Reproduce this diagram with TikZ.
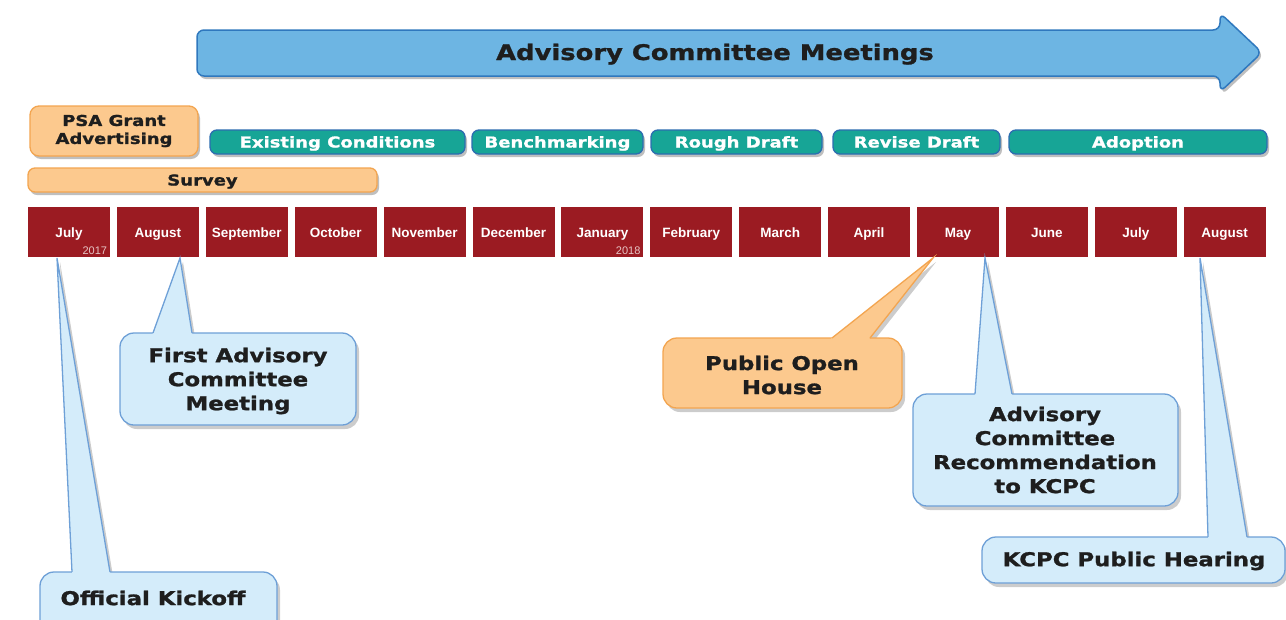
\documentclass[tikz,border=0pt]{standalone}
\usepackage{fontspec}
\newfontfamily\wfont{DejaVu Sans}[FakeStretch=1.2,BoldFeatures={FakeBold=1.2}]
\newfontfamily\mfont{Liberation Sans}
\usetikzlibrary{shadows,calc}
\definecolor{mred}{HTML}{9B1B22}
\definecolor{arrfill}{HTML}{6DB5E3}
\definecolor{arrline}{HTML}{2F78BE}
\definecolor{tealfill}{HTML}{17A596}
\definecolor{tealline}{HTML}{2C6DB0}
\definecolor{orfill}{HTML}{FCC98E}
\definecolor{orline}{HTML}{F3A550}
\definecolor{blfill}{HTML}{D4ECFA}
\definecolor{blline}{HTML}{6EA0D7}
\definecolor{ink}{HTML}{1E1E1E}
\definecolor{yearc}{HTML}{E6C4C4}

% #1 colour prefix, #2..#5 box, #6 #7 pointer base x, #8 #9 pointer tip
\newcommand{\mycallout}[9]{%
  \fill[black,opacity=.2,shift={(3,4)}] [rounded corners=14] (#2,#3) rectangle (#4,#5)
       [sharp corners] (#6,#3) -- (#8,#9) -- (#7,#3) -- cycle;
  \path[fill=#1fill,draw=#1line,line width=1.3,rounded corners=14] (#2,#3) rectangle (#4,#5);
  \fill[#1fill] (#8,#9) -- ($(#6,#3)!-3pt!(#8,#9)$) -- ($(#7,#3)!-3pt!(#8,#9)$) -- cycle;
  \draw[#1line,line width=1.3] (#6,#3) -- (#8,#9) -- (#7,#3);
}

\begin{document}
\begin{tikzpicture}[x=1pt,y=-1pt,
  shad/.style={drop shadow={shadow xshift=2pt,shadow yshift=-3pt,opacity=.25,fill=black}},
  month/.style={fill=mred,minimum width=82pt,minimum height=50pt,inner sep=0pt,
     text height=10pt,text depth=0pt,
     text=white,font=\mfont\bfseries\fontsize{13.5}{15}\selectfont},
  yearlbl/.style={text=yearc,inner sep=0pt,font=\mfont\fontsize{11}{12}\selectfont},
  phase/.style={shad,fill=tealfill,draw=tealline,line width=1.3,rounded corners=7,
     minimum height=24pt,inner sep=0pt,text height=11pt,text depth=0pt,
     text=white,font=\wfont\bfseries\fontsize{15}{18}\selectfont},
  orbox/.style={shad,fill=orfill,draw=orline,line width=1.3,inner sep=0pt,
     text=ink,font=\wfont\bfseries\fontsize{15}{18}\selectfont,align=center},
  ctext/.style={text=ink,align=center,inner sep=0pt,font=\wfont\bfseries\fontsize{19}{24}\selectfont}
]
\useasboundingbox (0,0) rectangle (1286,619);
\clip (0,0) rectangle (1286,619);
\fill[white] (0,0) rectangle (1286,619);

% big arrow
\path[shad,fill=arrfill,draw=arrline,line width=1.5,rounded corners=7]
  (197,30) -- (1220,30) -- (1220,13) -- (1262,52.5) -- (1220,92) -- (1220,76) -- (197,76) -- cycle;
\node[text=ink,inner sep=0pt,text height=16pt,text depth=0pt,font=\wfont\bfseries\fontsize{21.5}{24}\selectfont] (title) at (715,52) {Advisory Committee Meetings};

% orange boxes
\node[orbox,rounded corners=9,minimum width=168pt,minimum height=50pt] (psa) at (114,131) {PSA Grant\\Advertising};
\node[orbox,rounded corners=7,minimum width=349pt,minimum height=24pt,text height=11pt,text depth=0pt] (survey) at (202.5,180) {Survey};

% phases
\node[phase,minimum width=255pt] (p1) at (337.5,142) {Existing Conditions};
\node[phase,minimum width=171pt] (p2) at (557.5,142) {Benchmarking};
\node[phase,minimum width=171pt] (p3) at (736.5,142) {Rough Draft};
\node[phase,minimum width=167pt] (p4) at (916.5,142) {Revise Draft};
\node[phase,minimum width=258pt] (p5) at (1138,142) {Adoption};

% months
\foreach \m [count=\i from 0] in {July,August,September,October,November,December,January,February,March,April,May,June,July,August}
  \node[month] (m\i) at ({69+88.9*\i},232) {\m};
\node[yearlbl,anchor=south east] (y2017) at ([xshift=-3pt,yshift=2pt]m0.south east) {2017};
\node[yearlbl,anchor=south east] (y2018) at ([xshift=-3pt,yshift=2pt]m6.south east) {2018};

% callouts
\mycallout{bl}{40}{572}{277}{640}{72}{110}{57}{258}
\node[ctext] (kick) at (153,598) {Official Kickoff};

\mycallout{bl}{120}{333}{356}{425}{153}{192}{180}{258}
\node[ctext] (first) at (238,381) {First Advisory\\Committee\\Meeting};

\mycallout{or}{663}{338}{902}{408}{832}{870}{933}{258}
\node[ctext] (poh) at (782,375) {Public Open\\House};

\mycallout{bl}{913}{394}{1178}{506}{975}{1012}{985}{258}
\node[ctext] (rec) at (1045,450) {Advisory\\Committee\\Recommendation\\to KCPC};

\mycallout{bl}{982}{537}{1285}{583}{1208}{1247}{1200}{258}
\node[ctext] (kcpc) at (1134,561) {KCPC Public Hearing};
\end{tikzpicture}
\end{document}
